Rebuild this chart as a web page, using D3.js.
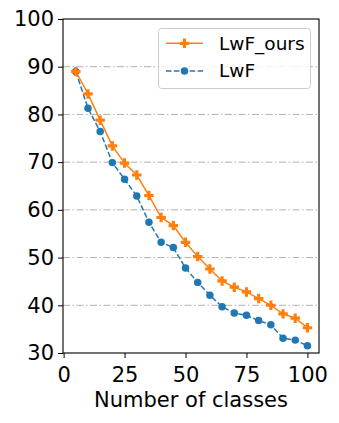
<!DOCTYPE html>
<html><head><meta charset="utf-8">
<script src="https://cdn.jsdelivr.net/npm/d3@7"></script>
<style>body{margin:0;background:#fff}text{font-family:"DejaVu Sans",sans-serif;fill:#000}</style>
</head><body><svg id="c" width="339" height="423"></svg>
<script>
const classes = [5,10,15,20,25,30,35,40,45,50,55,60,65,70,75,80,85,90,95,100];
const lwfOurs = [89.0,84.3,78.8,73.4,69.8,67.3,63.0,58.4,56.7,53.2,50.2,47.6,45.1,43.8,42.8,41.4,40.0,38.2,37.3,35.3];
const lwf =     [89.0,81.3,76.4,69.9,66.4,62.9,57.4,53.2,52.1,47.8,44.8,42.1,39.7,38.4,37.9,36.8,35.9,33.1,32.7,31.5];
const xTicks = [0,25,50,75,100];
const yTicks = [30,40,50,60,70,80,90,100];
const seriesNames = ["LwF_ours","LwF"];

const svg = d3.select("#c");
const L=63, R=319, T=19, B=353;
const x = d3.scaleLinear().domain([-0.25,104.75]).range([L,R]);
const y = d3.scaleLinear().domain([30,100]).range([B,T]);

// grid
svg.append("g").selectAll("line").data(yTicks.filter(d=>d>30&&d<100)).join("line")
  .attr("x1",L).attr("x2",R).attr("y1",d=>y(d)).attr("y2",d=>y(d))
  .attr("stroke","#b0b0b0").attr("stroke-width",1).attr("stroke-dasharray","7,2.5,1.5,2.5");

const xa = svg.append("g").attr("transform",`translate(0,${B})`)
  .call(d3.axisBottom(x).tickValues(xTicks).tickSize(5).tickPadding(4));
const ya = svg.append("g").attr("transform",`translate(${L},0)`)
  .call(d3.axisLeft(y).tickValues(yTicks).tickSize(5).tickPadding(4));
[xa,ya].forEach(a=>{a.select(".domain").remove();a.selectAll("line").attr("stroke","#000").attr("stroke-width",1);
  a.selectAll("text").attr("font-size","21px").attr("font-family","DejaVu Sans").attr("fill","#000");});
xa.selectAll("text").attr("dy","0.95em");

// spines
svg.append("rect").attr("x",L).attr("y",T).attr("width",R-L).attr("height",B-T)
  .attr("fill","none").attr("stroke","#000").attr("stroke-width",1.1);

const colors = ["#ff7f0e","#1f77b4"];
const data = [lwfOurs,lwf];
const line = d3.line().x((d,i)=>x(classes[i])).y(d=>y(d));
const cross = d3.symbol().type(d3.symbolCross).size(50);
const circ = d3.symbol().type(d3.symbolCircle).size(44);

// draw LwF first then ours on top
[1,0].forEach(k=>{
  svg.append("path").attr("d",line(data[k])).attr("fill","none").attr("stroke",colors[k])
    .attr("stroke-width",1.5).attr("stroke-dasharray",k===1?"5.5,2.4":null);
  svg.append("g").selectAll("path").data(data[k]).join("path")
    .attr("transform",(d,i)=>`translate(${x(classes[i])},${y(d)})`)
    .attr("d",k===0?cross():circ()).attr("fill",colors[k]);
});

// legend
const lg = svg.append("g");
lg.append("rect").attr("x",158.5).attr("y",28.5).attr("width",152).attr("height",60).attr("rx",3)
  .attr("fill","#fff").attr("fill-opacity",0.8).attr("stroke","#ccc").attr("stroke-width",1);
const rowsY=[43.3,71];
seriesNames.forEach((n,k)=>{
  lg.append("line").attr("x1",166).attr("x2",203).attr("y1",rowsY[k]).attr("y2",rowsY[k])
    .attr("stroke",colors[k]).attr("stroke-width",1.5).attr("stroke-dasharray",k===1?"5.5,2.4":null);
  lg.append("path").attr("transform",`translate(184.5,${rowsY[k]})`).attr("d",k===0?cross():circ()).attr("fill",colors[k]);
  lg.append("text").attr("x",219).attr("y",rowsY[k]).attr("dy","0.35em").attr("font-size","18.5px").text(n);
});

svg.append("text").attr("x",(L+R)/2).attr("y",407).attr("text-anchor","middle").attr("font-size","21px").text("Number of classes");
</script></body></html>
